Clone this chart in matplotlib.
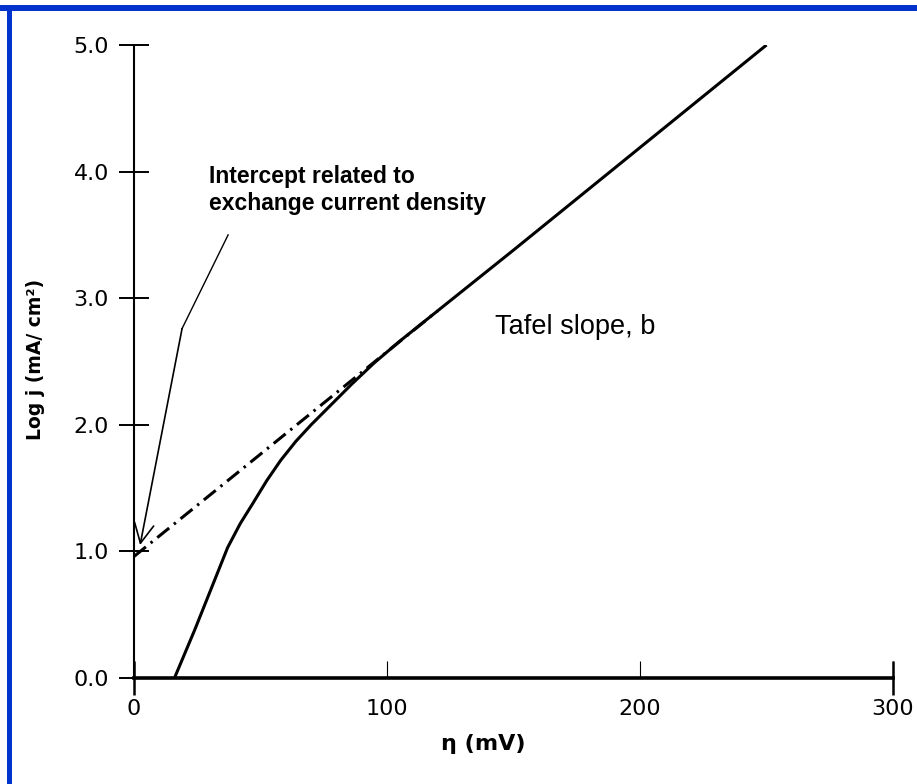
import matplotlib
matplotlib.use('Agg')
import matplotlib.pyplot as plt
from matplotlib.patches import Rectangle

eta = [16, 24, 30, 37, 42, 47, 52.5, 58, 64, 70, 78, 86, 95, 105, 120, 150, 200, 250]
logj = [0, 0.38, 0.68, 1.03, 1.22, 1.38, 1.56, 1.72, 1.87, 2.0, 2.16, 2.32, 2.49, 2.66, 2.9, 3.38, 4.19, 5.0]

# extrapolated Tafel line back to eta = 0
tafel_eta = [0, 120]
tafel_logj = [0.96, 2.90]

# leader line of the intercept note (text -> knee -> arrow tip)
lead_eta = [37.2, 19]
lead_logj = [3.50, 2.76]
tip = (2.4, 1.05)

xticks = [0, 100, 200, 300]
yticks = [0.0, 1.0, 2.0, 3.0, 4.0, 5.0]

W, H = 917, 784
fig = plt.figure(figsize=(W / 100, H / 100), dpi=100)
ax = fig.add_axes([134 / W, (H - 678) / H, (893 - 134) / W, (678 - 45) / H])

ax.plot(eta, logj, color='black', lw=2.2, solid_capstyle='butt', zorder=3)
ax.plot(tafel_eta, tafel_logj, color='black', lw=2.2,
        linestyle=(0, (5, 2, 0.8, 2)), zorder=2)

ax.set_xlim(0, 300)
ax.set_ylim(0, 5)

for s in ['top', 'right']:
    ax.spines[s].set_visible(False)
ax.spines['left'].set_linewidth(1.5)
ax.spines['bottom'].set_linewidth(2.6)

ax.xaxis.remove_overlapping_locs = False
ax.set_xticks(xticks)
ax.set_xticklabels([str(v) for v in xticks])
ax.set_yticks(yticks)
ax.set_yticklabels(['%.1f' % v for v in yticks])
ax.set_xticks([0, 300], minor=True)
ax.tick_params(axis='x', which='major', direction='in', length=12, width=0.8,
               pad=15, labelsize=16)
ax.tick_params(axis='x', which='minor', direction='inout', length=24, width=1.8)
ax.tick_params(axis='y', which='major', direction='inout', length=22, width=1.4,
               pad=7, labelsize=16)
for lab in ax.get_xticklabels() + ax.get_yticklabels():
    lab.set_family('DejaVu Sans')

ax.set_xlabel('η (mV)', fontsize=16, fontweight='bold', family='DejaVu Sans')
ax.xaxis.set_label_coords((483 - 134) / 759, (678 - 734) / 633)
ax.set_ylabel('Log j (mA/ cm²)', fontsize=13.5, fontweight='bold', family='DejaVu Sans')
ax.yaxis.set_label_coords((36 - 134) / 759, (678 - 359) / 633)
ax.yaxis.label.set_va('center')

# annotation
ax.text(29.6, 4.05, 'Intercept related to\nexchange current density',
        ha='left', va='top', fontsize=16.5, fontweight='bold',
        family='Liberation Sans', linespacing=1.2)
ax.plot(lead_eta, lead_logj, color='black', lw=1.0, clip_on=False)
ax.annotate('', xy=tip, xytext=(lead_eta[-1], lead_logj[-1]),
            arrowprops=dict(arrowstyle='->,head_length=0.7,head_width=0.35',
                            color='black', lw=1.2, shrinkA=0, shrinkB=0,
                            mutation_scale=20))

ax.text(142.7, 2.77, 'Tafel slope, b', ha='left', va='center', fontsize=19.5,
        family='Liberation Sans')

# blue frame on top and left edge
fig.patches.append(Rectangle((0, (H - 11) / H), 1, 6 / H, transform=fig.transFigure,
                             facecolor='#0033cc', edgecolor='none'))
fig.patches.append(Rectangle((7 / W, 0), 5 / W, (H - 6) / H, transform=fig.transFigure,
                             facecolor='#0033cc', edgecolor='none'))

fig.savefig('out.png', dpi=100)
